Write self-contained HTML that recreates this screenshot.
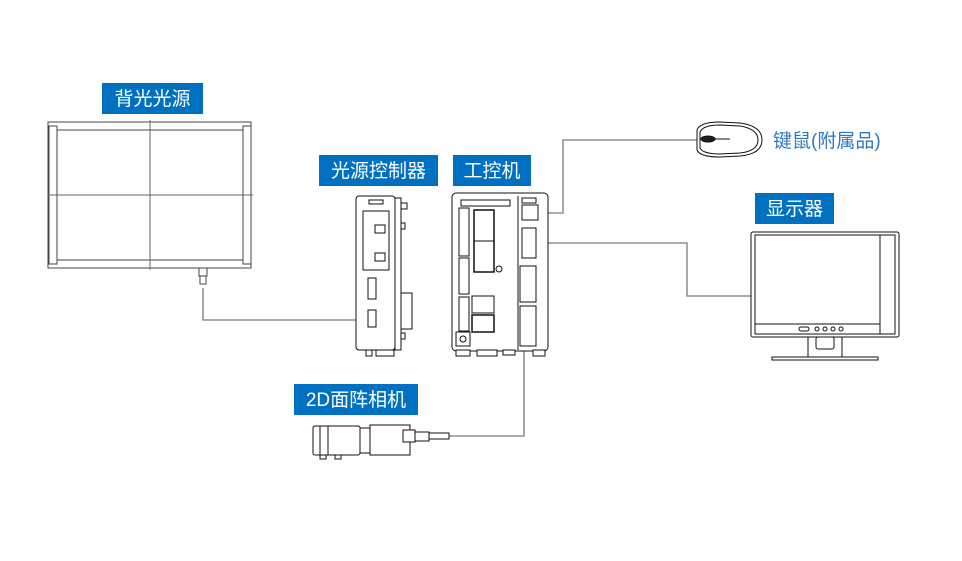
<!DOCTYPE html>
<html><head><meta charset="utf-8"><style>
html,body{margin:0;padding:0;background:#fff;}
svg{display:block}
text{font-family:"Liberation Sans","Noto Sans CJK SC",sans-serif;}
</style></head><body>
<svg width="962" height="561" viewBox="0 0 962 561" xmlns="http://www.w3.org/2000/svg">
<g fill="none" stroke="#7a7a7a" stroke-width="1.3">
<polyline points="203,288 203,320 370,320"/>
<polyline points="527,213 563,213 563,140 697,140"/>
<polyline points="529,243 687,243 687,296 751,296"/>
<polyline points="524,341 524,436 448,436"/>
</g>
<g fill="#555"><circle cx="370" cy="320" r="2.2"/><circle cx="527" cy="213" r="2.2"/><circle cx="527" cy="243" r="2.2"/><circle cx="524" cy="341" r="2.2"/></g>

<g fill="none" stroke="#444" stroke-width="1">
<rect x="48" y="122" width="203" height="146"/>
<rect x="49" y="126" width="8" height="138"/>
<rect x="243" y="126" width="8" height="138"/>
<line x1="57" y1="130" x2="243" y2="130"/>
<line x1="57" y1="260" x2="243" y2="260"/>
<line x1="150" y1="120" x2="150" y2="270" stroke="#666"/>
<line x1="48" y1="195" x2="253" y2="195" stroke="#666"/>
<rect x="199" y="268" width="8" height="8"/>
<rect x="200" y="276" width="6" height="8"/>
</g>

<g fill="#fff" stroke="#111" stroke-width="1">
<rect x="356" y="196" width="39" height="154" rx="3"/>
<rect x="395" y="198" width="6" height="152"/>
<rect x="401" y="203" width="6" height="6"/>
<rect x="401" y="223" width="4" height="6"/>
<rect x="401" y="293" width="11" height="36"/>
<rect x="401" y="333" width="4" height="6"/>
<rect x="369" y="200" width="14" height="4"/>
<rect x="363" y="211" width="26" height="59"/>
<rect x="375" y="225" width="10" height="8"/>
<rect x="375" y="253" width="10" height="8"/>
<rect x="368" y="278" width="8" height="21"/>
<rect x="368" y="310" width="8" height="17"/>
<rect x="366" y="350" width="6" height="6"/>
<rect x="376" y="350" width="18" height="6"/>
</g>

<g fill="#fff" stroke="#111" stroke-width="1">
<rect x="452" y="193" width="96" height="158" rx="4"/>
<rect x="461" y="200" width="49" height="6"/>
<line x1="518" y1="196" x2="518" y2="350"/>
<rect x="522" y="198" width="14" height="5"/>
<rect x="522" y="205" width="16" height="15"/>
<rect x="522" y="228" width="14" height="30"/>
<rect x="520" y="266" width="16" height="36"/>
<rect x="520" y="306" width="16" height="40"/>
<rect x="459" y="208" width="10" height="48"/>
<rect x="459" y="258" width="10" height="36"/>
<rect x="459" y="297" width="10" height="34"/>
<rect x="474" y="210" width="20" height="62" stroke-width="1.5"/>
<line x1="474" y1="241" x2="494" y2="241"/>
<circle cx="499" cy="269" r="3"/>
<rect x="472" y="296" width="22" height="17"/>
<rect x="472" y="315" width="22" height="17" stroke-width="1.5"/>
<rect x="456" y="332" width="14" height="14"/>
<circle cx="463" cy="339" r="3"/>
<rect x="456" y="350" width="14" height="6"/>
<rect x="477" y="350" width="20" height="6"/>
<rect x="503" y="350" width="12" height="5"/>
<rect x="533" y="350" width="12" height="6"/>
</g>

<g fill="#fff" stroke="#111" stroke-width="1">
<path d="M697,130 Q700,122 720,122 L740,123 Q762,126 762,140 Q762,154 740,156 L720,157 Q700,157 697,150 Z"/>
<path d="M700,132 Q703,125 720,125 L740,126 Q758,129 758,140 Q758,151 740,153 L720,154 Q703,154 700,148 Z"/>
<ellipse cx="708" cy="139" rx="7" ry="3" fill="#222"/>
<line x1="708" y1="139" x2="730" y2="139"/>
</g>

<g fill="#fff" stroke="#111" stroke-width="1">
<rect x="751" y="232" width="148" height="105" rx="2"/>
<rect x="755" y="235" width="140" height="99"/>
<line x1="880" y1="235" x2="880" y2="334"/>
<line x1="755" y1="324" x2="880" y2="324"/>
<rect x="799" y="327" width="10" height="4" rx="2"/>
<circle cx="817" cy="329" r="2"/><circle cx="825" cy="329" r="2"/><circle cx="833" cy="329" r="2"/><circle cx="841" cy="329" r="2"/>
<rect x="808" y="337" width="34" height="20"/>
<rect x="816" y="337" width="18" height="12" rx="2"/>
<rect x="772" y="357" width="106" height="3"/>
</g>

<g fill="#fff" stroke="#111" stroke-width="1">
<rect x="313" y="426" width="47" height="29" rx="2"/>
<line x1="320" y1="426" x2="320" y2="455"/>
<line x1="328" y1="426" x2="328" y2="455"/>
<rect x="360" y="428" width="10" height="25"/>
<rect x="370" y="425" width="40" height="30"/>
<rect x="403" y="430" width="12" height="12"/>
<rect x="415" y="432" width="14" height="9"/>
<rect x="429" y="433" width="20" height="6"/>
<rect x="320" y="455" width="6" height="4"/>
<rect x="335" y="455" width="6" height="4"/>
</g>

<g font-size="19" fill="#fff">
<rect x="102" y="83" width="101" height="31" fill="#0070c0"/>
<text x="152.5" y="105" text-anchor="middle">背光光源</text>
<rect x="319" y="155" width="119" height="31" fill="#0070c0"/>
<text x="378.5" y="177" text-anchor="middle">光源控制器</text>
<rect x="453" y="155" width="78" height="31" fill="#0070c0"/>
<text x="492" y="177" text-anchor="middle">工控机</text>
<rect x="755" y="193" width="79" height="31" fill="#0070c0"/>
<text x="794.5" y="215" text-anchor="middle">显示器</text>
<rect x="294" y="384" width="124" height="31" fill="#0070c0"/>
<text x="356" y="406" text-anchor="middle">2D面阵相机</text>
</g>
<text x="773" y="147" font-size="19" fill="#2f78c4">键鼠(附属品)</text>
</svg>
</body></html>
